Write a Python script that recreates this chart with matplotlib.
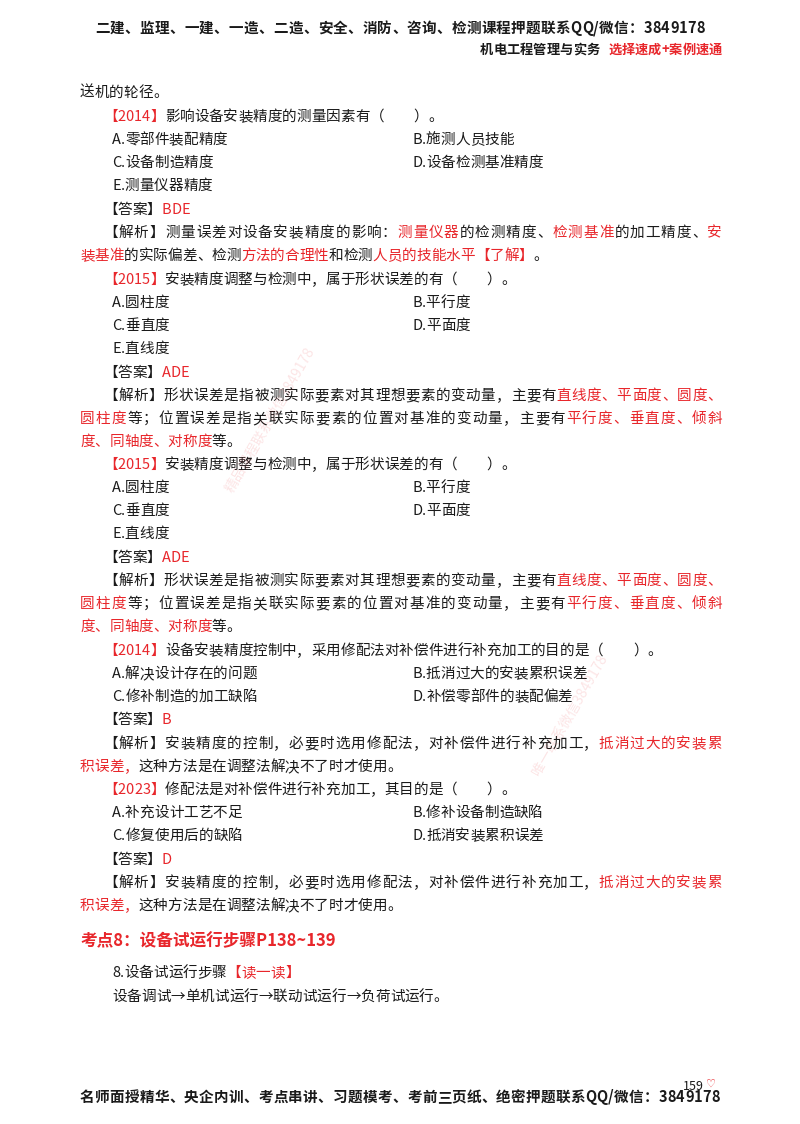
import matplotlib
matplotlib.use("Agg")
import matplotlib.pyplot as plt

plt.rcParams['font.family'] = ['Noto Sans CJK SC', 'DejaVu Sans']
RED = '#e8262b'
K = '#1a1a1a'

header_line1 = "二建、监理、一建、一造、二造、安全、消防、咨询、检测课程押题联系QQ/微信：3849178"
header_line2 = [("机电工程管理与实务   ", K), ("选择速成+案例速通", RED)]
footer_line = "名师面授精华、央企内训、考点串讲、习题模考、考前三页纸、绝密押题联系QQ/微信：3849178"
page_number = "159"

# (y, x, segments, justify)
body_lines = [
    (93, 80, [("送机的轮径。", K)], False),
    (117, 103, [("【2014】", RED), ("影响设备安装精度的测量因素有（　　）。", K)], False),
    (140, 112, [("A.零部件装配精度", K)], False), (140, 412, [("B.施测人员技能", K)], False),
    (163, 112, [("C.设备制造精度", K)], False), (163, 412, [("D.设备检测基准精度", K)], False),
    (186, 112, [("E.测量仪器精度", K)], False),
    (210, 103, [("【答案】", K), ("BDE", RED)], False),
    (233, 103, [("【解析】测量误差对设备安装精度的影响：", K), ("测量仪器", RED), ("的检测精度、", K),
                ("检测基准", RED), ("的加工精度、", K), ("安", RED)], True),
    (256, 80, [("装基准", RED), ("的实际偏差、检测", K), ("方法的合理性", RED), ("和检测", K),
               ("人员的技能水平【了解】", RED), ("。", K)], False),
]

def block_2015(y0):
    return [
        (y0, 103, [("【2015】", RED), ("安装精度调整与检测中，属于形状误差的有（　　）。", K)], False),
        (y0 + 23, 112, [("A.圆柱度", K)], False), (y0 + 23, 412, [("B.平行度", K)], False),
        (y0 + 46, 112, [("C.垂直度", K)], False), (y0 + 46, 412, [("D.平面度", K)], False),
        (y0 + 69, 112, [("E.直线度", K)], False),
        (y0 + 93, 103, [("【答案】", K), ("ADE", RED)], False),
        (y0 + 116, 103, [("【解析】形状误差是指被测实际要素对其理想要素的变动量，主要有", K),
                         ("直线度、平面度、圆度、", RED)], True),
        (y0 + 139, 80, [("圆柱度", RED), ("等；位置误差是指关联实际要素的位置对基准的变动量，主要有", K),
                        ("平行度、垂直度、倾斜", RED)], True),
        (y0 + 162, 80, [("度、同轴度、对称度", RED), ("等。", K)], False),
    ]

body_lines += block_2015(280) + block_2015(465)

analysis = [
    [("【解析】安装精度的控制，必要时选用修配法，对补偿件进行补充加工，", K), ("抵消过大的安装累", RED)],
    [("积误差，", RED), ("这种方法是在调整法解决不了时才使用。", K)],
]
body_lines += [
    (651, 103, [("【2014】", RED), ("设备安装精度控制中，采用修配法对补偿件进行补充加工的目的是（　　）。", K)], False),
    (674, 112, [("A.解决设计存在的问题", K)], False), (674, 412, [("B.抵消过大的安装累积误差", K)], False),
    (697, 112, [("C.修补制造的加工缺陷", K)], False), (697, 412, [("D.补偿零部件的装配偏差", K)], False),
    (720, 103, [("【答案】", K), ("B", RED)], False),
    (744, 103, analysis[0], True), (767, 80, analysis[1], False),
    (790, 103, [("【2023】", RED), ("修配法是对补偿件进行补充加工，其目的是（　　）。", K)], False),
    (813, 112, [("A.补充设计工艺不足", K)], False), (813, 412, [("B.修补设备制造缺陷", K)], False),
    (836, 112, [("C.修复使用后的缺陷", K)], False), (836, 412, [("D.抵消安装累积误差", K)], False),
    (860, 103, [("【答案】", K), ("D", RED)], False),
    (883, 103, analysis[0], True), (906, 80, analysis[1], False),
    (973, 112, [("8.设备试运行步骤", K), ("【读一读】", RED)], False),
    (997, 112, [("设备调试→单机试运行→联动试运行→负荷试运行。", K)], False),
]
section_title = "考点8：设备试运行步骤P138~139"

W, H = 800, 1124
fig = plt.figure(figsize=(8, 11.24), dpi=100)
fig.patch.set_facecolor('white')
r = fig.canvas.get_renderer()

def px(x, y):
    return x / W, 1 - y / H

def char_w(ch, size, weight):
    t = fig.text(0, 0, ch, fontsize=size, fontweight=weight)
    w = t.get_window_extent(r).width
    t.remove()
    return w

cache = {}
def cw(ch, size, weight):
    k = (ch, size, weight)
    if k not in cache:
        cache[k] = char_w(ch, size, weight)
    return cache[k]

def draw_line(y, x, segs, justify=False, right=722, size=10.5, weight='normal'):
    chars = [(c, col) for s, col in segs for c in s]
    widths = [cw(c, size, weight) for c, _ in chars]
    gap = 0
    if justify and len(chars) > 1:
        gap = (right - x - sum(widths)) / (len(chars) - 1)
    cx = x
    for (c, col), w in zip(chars, widths):
        fig.text(*px(cx, y), c, fontsize=size, color=col, fontweight=weight, va='center', ha='left')
        cx += w + gap

draw_line(28, 95, [(header_line1, K)], justify=True, right=705, size=10.5, weight='bold')
fig.text(*px(722, 50), "", fontsize=9.5)
# right aligned header line 2
tot = sum(cw(c, 9.5, 'bold') for s, _ in header_line2 for c in s)
draw_line(50, 722 - tot, header_line2, size=9.5, weight='bold')

for y, x, segs, j in body_lines:
    draw_line(y, x, segs, j)

fig.text(*px(80, 941), section_title, fontsize=12, color=RED, fontweight='bold', va='center')

draw_line(1097, 80, [(footer_line, K)], justify=True, right=720, size=10.5, weight='bold')
fig.text(*px(683, 1086), page_number, fontsize=9, style='italic', color=K, va='center')
fig.text(*px(706, 1084), "♡", fontsize=8, color=RED, va='center', family='DejaVu Sans')

# faint watermarks
fig.text(*px(270, 420), "精品课程联系微信3849178", fontsize=10, color=RED, alpha=0.12,
         rotation=60, ha='center', va='center')
fig.text(*px(570, 715), "唯一联系微信3849178", fontsize=10, color=RED, alpha=0.12,
         rotation=60, ha='center', va='center')

fig.savefig('out.png', dpi=100, facecolor='white')
